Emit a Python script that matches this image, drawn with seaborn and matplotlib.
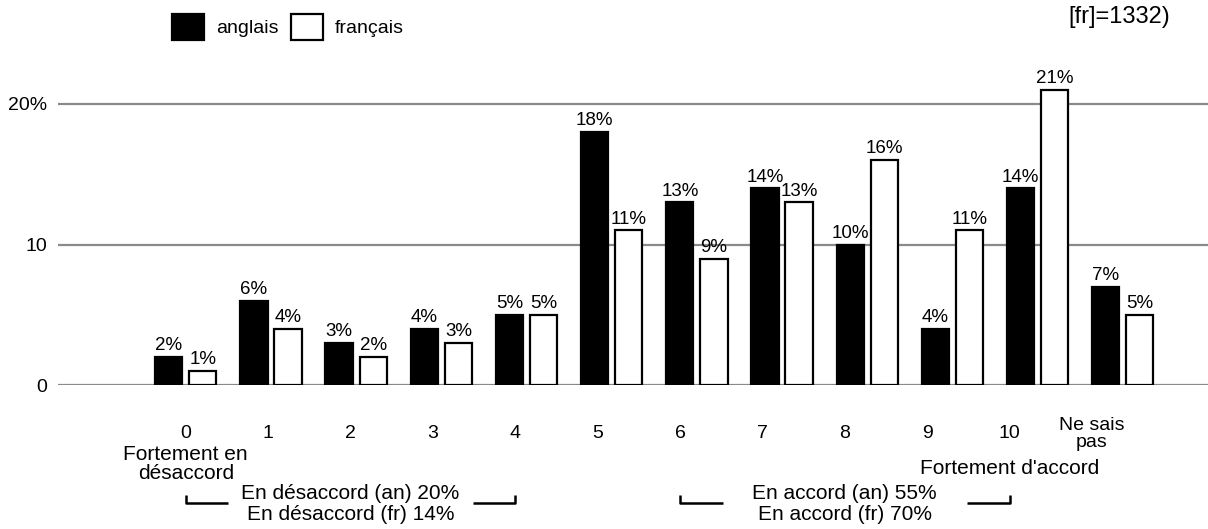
import matplotlib
matplotlib.use("Agg")
import matplotlib.pyplot as plt
import matplotlib.transforms as mtransforms
from matplotlib.patches import Patch
import seaborn as sns
import pandas as pd

categories = ["0", "1", "2", "3", "4", "5", "6", "7", "8", "9", "10", "Ne sais\npas"]
anglais = [2, 6, 3, 4, 5, 18, 13, 14, 10, 4, 14, 7]
francais = [1, 4, 2, 3, 5, 11, 9, 13, 16, 11, 21, 5]
series_names = ["anglais", "français"]
ytick_values = [0, 10, 20]
ytick_labels = ["0", "10", "20%"]

sns.set_theme(style="white")
plt.rcParams["font.family"] = ["Liberation Sans", "DejaVu Sans"]
plt.rcParams["text.color"] = "black"
plt.rcParams["xtick.color"] = "black"
plt.rcParams["ytick.color"] = "black"
plt.rcParams["xtick.labelcolor"] = "black"
plt.rcParams["ytick.labelcolor"] = "black"

FS_VAL = 13.5
FS_TICK = 14
FS_ANN = 15

df = pd.DataFrame({
    "cat": categories * 2,
    "val": anglais + francais,
    "lang": [series_names[0]] * len(categories) + [series_names[1]] * len(categories),
})

W, H = 1208, 529
fig = plt.figure(figsize=(W / 100, H / 100), dpi=100)
ax = fig.add_axes([58 / W, 1 - 385 / H, 1 - 58 / W, (385 - 60) / H])

sns.barplot(data=df, x="cat", y="val", hue="lang", order=categories,
            hue_order=series_names,
            palette={series_names[0]: "black", series_names[1]: "white"},
            edgecolor="black", linewidth=1.6, width=0.8, gap=0.2,
            legend=False, ax=ax, zorder=3)

for cont, vals in zip(ax.containers, [anglais, francais]):
    ax.bar_label(cont, labels=[f"{v}%" for v in vals], padding=2,
                 fontsize=FS_VAL, color="black")

ax.set_xlim(-1.5, 12.0)
ax.set_ylim(0, (385 - 60) / 14.05)
ax.set_xlabel("")
ax.set_ylabel("")
for s in ax.spines.values():
    s.set_visible(False)

# grid lines
for v in ytick_values:
    ax.axhline(v, color="#8a8a8a", lw=1.6, zorder=1)
ax.set_yticks(ytick_values, ytick_labels)
ax.tick_params(axis="y", length=0, pad=8, labelsize=FS_TICK, labelcolor="black")

# x tick labels (slightly compressed spacing as in the original)
step = 0.967
label_pos = [k * step for k in range(len(categories))]
ax.set_xticks(label_pos, categories)
ax.tick_params(axis="x", length=0, pad=35, labelsize=FS_TICK, labelcolor="black")
for lbl in ax.get_xticklabels():
    lbl.set_verticalalignment("center")
    lbl.set_linespacing(1.0)

trans = mtransforms.blended_transform_factory(ax.transData, fig.transFigure)
def fy(px):
    return 1 - px / H

ax.text(label_pos[0], fy(464), "Fortement en\ndésaccord", transform=trans,
        ha="center", va="center", fontsize=FS_ANN, linespacing=1.05)
ax.text(label_pos[10], fy(468), "Fortement d'accord", transform=trans,
        ha="center", va="center", fontsize=FS_ANN)

# group brackets
arm = 0.5
def bracket(x0, x1, text):
    kw = dict(transform=trans, color="black", lw=1.8, clip_on=False,
              solid_capstyle="butt")
    ax.plot([x0, x0, x0 + arm], [fy(495), fy(503), fy(503)], **kw)
    ax.plot([x1 - arm, x1, x1], [fy(503), fy(503), fy(495)], **kw)
    ax.text((x0 + x1) / 2, fy(504), text, transform=trans, ha="center",
            va="center", fontsize=FS_ANN, linespacing=1.12)

bracket(label_pos[0], label_pos[4], "En désaccord (an) 20%\nEn désaccord (fr) 14%")
bracket(label_pos[6], label_pos[10], "En accord (an) 55%\nEn accord (fr) 70%")

# legend
handles = [Patch(facecolor="black", edgecolor="black", lw=1.6),
           Patch(facecolor="white", edgecolor="black", lw=1.6)]
fig.legend(handles, series_names, loc="center left",
           bbox_to_anchor=(172 / W, 1 - 27 / H), ncol=2, frameon=False,
           fontsize=FS_TICK, handlelength=1.65, handleheight=1.75,
           handletextpad=0.6, columnspacing=0.65, borderpad=0, borderaxespad=0)

fig.text(1068 / W, 1 - 17 / H, "[fr]=1332)", ha="left", va="center", fontsize=17)

fig.savefig("out.png", dpi=100)
